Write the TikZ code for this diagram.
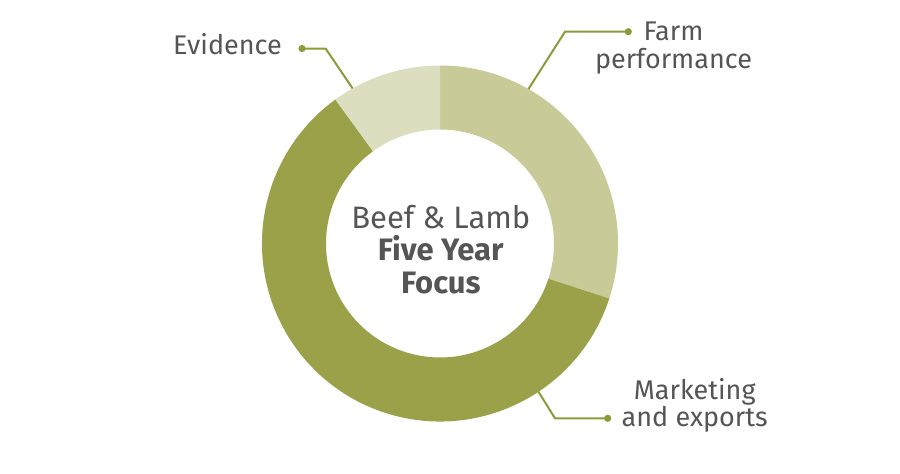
\documentclass[tikz,border=0pt]{standalone}
\usepackage{fontspec}
\setmainfont{Fira Sans}
\definecolor{segdark}{HTML}{9AA149}
\definecolor{segmid}{HTML}{C8CA98}
\definecolor{seglight}{HTML}{DDDEC0}
\definecolor{leadc}{HTML}{8C9A38}
\definecolor{txtc}{HTML}{555555}
\tikzset{
  leader/.style={draw=leadc, line width=2pt},
  leaddot/.style={fill=leadc},
  lbl/.style={text=txtc, inner sep=0pt, font=\fontsize{27}{27.5}\selectfont, align=center},
  ctr/.style={text=txtc, inner sep=0pt, font=\fontsize{31}{32.3}\selectfont, align=center}
}
\begin{document}
\begin{tikzpicture}[x=1pt,y=1pt]
\useasboundingbox (0,0) rectangle (900,474);
\begin{scope}[shift={(440,230.5)}]
  \fill[segmid] (90:178) arc[start angle=90,end angle=-18,radius=178] -- (-18:114) arc[start angle=-18,end angle=90,radius=114] -- cycle;
  \fill[segdark] (-18:178) arc[start angle=-18,end angle=-234,radius=178] -- (126:114) arc[start angle=-234,end angle=-18,radius=114] -- cycle;
  \fill[seglight] (126:178) arc[start angle=126,end angle=90,radius=178] -- (90:114) arc[start angle=90,end angle=126,radius=114] -- cycle;
  \coordinate (evo) at (119.4:178);
  \coordinate (fpo) at (60.2:178);
  \coordinate (meo) at (-56.4:178);
\end{scope}
% leader lines
\coordinate (evb) at (325.7,425.3);
\coordinate (evd) at (302,425.5);
\coordinate (fpb) at (565,442.3);
\coordinate (fpd) at (628.3,442.3);
\coordinate (meb) at (555,55.7);
\coordinate (med) at (607.7,55.7);
\draw[leader] (evo) -- (evb) -- (evd);
\draw[leader] (fpo) -- (fpb) -- (fpd);
\draw[leader] (meo) -- (meb) -- (med);
\fill[leaddot] (evd) circle (3.6);
\fill[leaddot] (fpd) circle (3.6);
\fill[leaddot] (med) circle (3.6);
% labels
\node[lbl, anchor=base east] (ev) at (282,419.7) {Evidence};
\node[lbl, anchor=base] (fp) at (673.5,405.7) {Farm\\performance};
\node[lbl, anchor=base] (me) at (694.7,47.3) {Marketing\\and exports};
% centre text
\node[ctr, anchor=base] (ct) at (440.8,180.7) {Beef \& Lamb\\\textbf{Five Year}\\\textbf{Focus}};
\end{tikzpicture}
\end{document}
